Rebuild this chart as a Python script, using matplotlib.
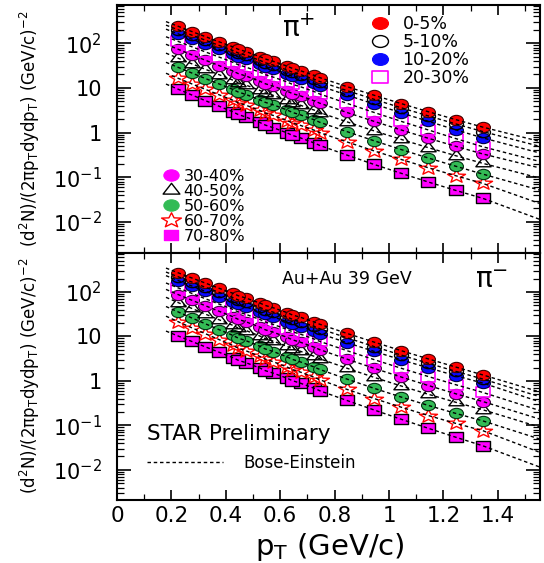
"""pi+ / pi- pT spectra in Au+Au 39 GeV by centrality, with Bose-Einstein fits."""

import matplotlib

matplotlib.use("Agg")
import matplotlib.pyplot as plt  # noqa: E402
import numpy as np  # noqa: E402
from matplotlib.lines import Line2D  # noqa: E402
from matplotlib.path import Path  # noqa: E402
from matplotlib.ticker import FixedFormatter, FixedLocator, LogLocator, MultipleLocator, NullFormatter  # noqa: E402

# --- data --------------------------------------------------------------------
centralities = ["0-5%", "5-10%", "10-20%", "20-30%", "30-40%", "40-50%", "50-60%", "60-70%", "70-80%"]

pt_tpc = [0.225, 0.275, 0.325, 0.375, 0.425, 0.475, 0.525, 0.575, 0.625, 0.675, 0.725]
pt_tof = [0.445, 0.545, 0.645, 0.745, 0.845, 0.945, 1.045, 1.145, 1.245, 1.345]
pt_fit_lo = 0.18
pt_fit_hi = 1.56

# pi+ yields, one row per centrality
pip_tpc = [
    [240, 183, 141, 108, 83.6, 64.8, 50.4, 39.3, 30.8, 24.2, 19.1],
    [200, 152, 117, 89.6, 69.1, 53.5, 41.5, 32.3, 25.3, 19.8, 15.6],
    [162, 124, 95.1, 73.1, 56.4, 43.6, 33.8, 26.3, 20.5, 16.0, 12.6],
    [110, 83.6, 64.0, 49.1, 37.7, 29.1, 22.5, 17.4, 13.6, 10.6, 8.27],
    [73.3, 55.1, 41.7, 31.6, 24.1, 18.4, 14.1, 10.9, 8.46, 6.60, 5.14],
    [46.2, 34.7, 26.1, 19.8, 15.0, 11.5, 8.80, 6.78, 5.24, 4.07, 3.18],
    [28.8, 21.6, 16.2, 12.3, 9.30, 7.08, 5.42, 4.16, 3.21, 2.48, 1.93],
    [16.4, 12.3, 9.27, 7.03, 5.33, 4.07, 3.12, 2.41, 1.86, 1.44, 1.13],
    [9.33, 6.94, 5.18, 3.89, 2.93, 2.21, 1.68, 1.28, 0.983, 0.756, 0.584],
]
pip_tof = [
    [73.6, 44.5, 27.3, 17.0, 10.7, 6.85, 4.45, 2.92, 1.95, 1.32],
    [60.8, 36.6, 22.4, 13.9, 8.71, 5.55, 3.58, 2.35, 1.56, 1.05],
    [49.5, 29.8, 18.1, 11.1, 6.92, 4.35, 2.76, 1.78, 1.15, 0.759],
    [33.1, 19.8, 12.0, 7.31, 4.52, 2.82, 1.78, 1.14, 0.733, 0.479],
    [21.0, 12.4, 7.45, 4.55, 2.82, 1.78, 1.14, 0.742, 0.492, 0.331],
    [13.1, 7.72, 4.62, 2.81, 1.74, 1.09, 0.701, 0.457, 0.303, 0.204],
    [8.12, 4.75, 2.82, 1.70, 1.05, 0.654, 0.415, 0.268, 0.176, 0.117],
    [4.65, 2.74, 1.64, 0.997, 0.617, 0.388, 0.249, 0.162, 0.108, 0.0724],
    [2.54, 1.47, 0.862, 0.515, 0.313, 0.193, 0.122, 0.0777, 0.0506, 0.0335],
]
pip_fit_lo = [306, 255, 207, 140, 95.0, 60.1, 37.5, 21.3, 12.2]
pip_fit_hi = [0.62, 0.48, 0.34, 0.22, 0.158, 0.093, 0.050, 0.025, 0.011]

# pi- yields
pim_tpc = [
    [269, 206, 158, 121, 93.7, 72.5, 56.3, 43.9, 34.3, 26.9, 21.1],
    [219, 167, 127, 97.8, 75.2, 58.1, 45.0, 35.0, 27.3, 21.4, 16.8],
    [180, 136, 103, 78.4, 59.9, 46.0, 35.5, 27.5, 21.3, 16.7, 13.1],
    [123, 92.8, 70.3, 53.4, 40.8, 31.2, 24.0, 18.5, 14.4, 11.2, 8.73],
    [87.1, 65.1, 48.9, 36.8, 27.9, 21.2, 16.2, 12.4, 9.53, 7.37, 5.72],
    [57.5, 42.6, 31.7, 23.7, 17.8, 13.5, 10.2, 7.80, 5.98, 4.61, 3.57],
    [35.5, 26.0, 19.2, 14.2, 10.6, 7.97, 6.01, 4.56, 3.47, 2.66, 2.05],
    [21.4, 15.6, 11.5, 8.49, 6.31, 4.73, 3.56, 2.69, 2.05, 1.57, 1.21],
    [10.2, 7.70, 5.82, 4.41, 3.35, 2.55, 1.95, 1.49, 1.15, 0.884, 0.683],
]
pim_tof = [
    [82.4, 49.7, 30.3, 18.8, 11.7, 7.45, 4.78, 3.11, 2.05, 1.36],
    [66.1, 39.7, 24.2, 14.9, 9.33, 5.92, 3.80, 2.48, 1.64, 1.10],
    [52.5, 31.2, 18.9, 11.6, 7.24, 4.61, 2.98, 1.96, 1.31, 0.891],
    [35.7, 21.1, 12.7, 7.73, 4.79, 3.01, 1.92, 1.25, 0.821, 0.550],
    [24.3, 14.1, 8.38, 5.05, 3.09, 1.92, 1.22, 0.785, 0.514, 0.343],
    [15.5, 8.92, 5.25, 3.15, 1.93, 1.20, 0.767, 0.499, 0.331, 0.224],
    [9.20, 5.23, 3.04, 1.81, 1.10, 0.681, 0.432, 0.280, 0.186, 0.126],
    [5.46, 3.09, 1.79, 1.06, 0.646, 0.401, 0.256, 0.166, 0.111, 0.0759],
    [2.92, 1.70, 1.01, 0.601, 0.363, 0.222, 0.137, 0.0857, 0.0542, 0.0347],
]
pim_fit_lo = [344, 280, 232, 159, 114, 75.7, 47.1, 28.5, 13.2]
pim_fit_hi = [0.55, 0.43, 0.33, 0.21, 0.135, 0.089, 0.048, 0.024, 0.0112]

ytick_vals = [1e-2, 1e-1, 1, 10, 100]
ytick_labels = [r"10$^{-2}$", r"10$^{-1}$", "1", "10", r"10$^{2}$"]
xtick_vals = [0, 0.2, 0.4, 0.6, 0.8, 1.0, 1.2, 1.4]


# --- marker shapes: the original is stretched sideways -----------------------
def stretched(path, sx=1.35):
    return Path(path.vertices * np.array([sx, 1.0]), path.codes)


ELLIPSE = stretched(Path.unit_circle())
RECT = stretched(
    Path([(-1, -1), (1, -1), (1, 1), (-1, 1), (-1, -1)],
         [Path.MOVETO, Path.LINETO, Path.LINETO, Path.LINETO, Path.CLOSEPOLY])
)
TRI = stretched(Path.unit_regular_polygon(3))
STAR = stretched(Path.unit_regular_star(5, 0.42))

MAG = "#ff00ff"
GREEN = "#33bb55"
styles = [
    dict(marker=ELLIPSE, ms=10, mfc="red", mec="#400000", mew=0.8),
    dict(marker=ELLIPSE, ms=10, mfc="none", mec="black", mew=1.0),
    dict(marker=ELLIPSE, ms=10, mfc="#0a0aff", mec="#000040", mew=0.8),
    dict(marker=RECT, ms=9.5, mfc="none", mec=MAG, mew=1.2),
    dict(marker=ELLIPSE, ms=10, mfc=MAG, mec="#400040", mew=0.8),
    dict(marker=TRI, ms=11, mfc="none", mec="black", mew=1.0),
    dict(marker=ELLIPSE, ms=10, mfc=GREEN, mec="#003010", mew=0.8),
    dict(marker=STAR, ms=13, mfc="none", mec="red", mew=1.0),
    dict(marker=RECT, ms=9.5, mfc=MAG, mec="black", mew=1.0),
]
FIT_LS = (0, (2.5, 2.0))

plt.rcParams["font.family"] = ["DejaVu Sans"]
plt.rcParams["mathtext.fontset"] = "dejavusans"

fig = plt.figure(figsize=(5.44, 5.63), dpi=100)
ax_top = fig.add_axes([0.2151, 0.5506, 0.7776, 0.4405])
ax_bot = fig.add_axes([0.2151, 0.1119, 0.7776, 0.4387])


def draw_panel(ax, tpc, tof, fit_lo, fit_hi, ylim):
    for i in range(len(centralities)):
        pts = np.concatenate([pt_tpc, pt_tof])
        vals = np.concatenate([tpc[i], tof[i]])
        ax.plot(pts, vals, ls="none", zorder=3 + 0.01 * (9 - i), **styles[i])
        order = np.argsort(pts)
        fx = np.concatenate([[pt_fit_lo], pts[order], [pt_fit_hi]])
        fy = np.concatenate([[fit_lo[i]], vals[order], [fit_hi[i]]])
        ax.plot(fx, fy, color="black", ls=FIT_LS, lw=1.0, zorder=5)

    ax.set_yscale("log")
    ax.set_xlim(0, 1.555)
    ax.set_ylim(*ylim)
    ax.yaxis.set_major_locator(FixedLocator(ytick_vals))
    ax.yaxis.set_major_formatter(FixedFormatter(ytick_labels))
    ax.yaxis.set_minor_locator(LogLocator(base=10, subs=np.arange(2, 10), numticks=20))
    ax.yaxis.set_minor_formatter(NullFormatter())
    ax.xaxis.set_major_locator(FixedLocator(xtick_vals))
    ax.xaxis.set_minor_locator(MultipleLocator(0.1))
    ax.tick_params(which="both", direction="in", top=True, right=True)
    ax.tick_params(axis="y", which="major", length=10, width=1.2, labelsize=15, pad=11)
    ax.tick_params(axis="y", which="minor", length=5, width=0.9)
    ax.tick_params(axis="x", which="major", length=7, width=1.2, labelsize=15.5, pad=4)
    ax.tick_params(axis="x", which="minor", length=4, width=0.9)
    for sp in ax.spines.values():
        sp.set_linewidth(1.5)


draw_panel(ax_top, pip_tpc, pip_tof, pip_fit_lo, pip_fit_hi, (2.0e-3, 7.2e2))
draw_panel(ax_bot, pim_tpc, pim_tof, pim_fit_lo, pim_fit_hi, (2.1e-3, 7.5e2))
ax_top.tick_params(axis="x", labelbottom=False)
ax_bot.set_xticklabels([f"{v:g}" for v in xtick_vals])


# --- legends -------------------------------------------------------------------
def handle(i, scale=1.15):
    st = dict(styles[i])
    st["ms"] = st["ms"] * scale
    if st["mfc"] != "none":
        st["mec"] = st["mfc"]
    return Line2D([], [], ls="none", **st)


leg1 = ax_top.legend(
    [handle(i) for i in range(4)], centralities[:4],
    loc="upper left", bbox_to_anchor=(0.597, 0.959), frameon=False, fontsize=12.5,
    borderpad=0, borderaxespad=0, handlelength=1.2, handletextpad=0.7, labelspacing=0.0,
)
ax_top.add_artist(leg1)
ax_top.legend(
    [handle(i, 1.1) for i in range(4, 9)], centralities[4:],
    loc="upper left", bbox_to_anchor=(0.1135, 0.34), frameon=False, fontsize=11.5,
    borderpad=0, borderaxespad=0, handlelength=0.8, handletextpad=0.35, labelspacing=0.0,
)
ax_bot.legend(
    [Line2D([], [], color="black", ls=FIT_LS, lw=1.0)], ["Bose-Einstein"],
    loc="upper left", bbox_to_anchor=(0.071, 0.186), frameon=False, fontsize=12,
    borderpad=0, borderaxespad=0, handlelength=4.55, handletextpad=1.2,
)

# --- labels ----------------------------------------------------------------------
ax_top.text(0.43, 0.905, "π$^{+}$", transform=ax_top.transAxes, fontsize=20,
            ha="center", va="center")
ax_bot.text(0.885, 0.89, "π$^{-}$", transform=ax_bot.transAxes, fontsize=20,
            ha="center", va="center")
ax_bot.text(0.544, 0.895, "Au+Au 39 GeV", transform=ax_bot.transAxes, fontsize=12.5,
            ha="center", va="center")
ax_bot.text(0.071, 0.243, "STAR Preliminary", transform=ax_bot.transAxes, fontsize=15.5,
            ha="left", va="baseline")

ylab = r"(d$^{2}$N)/(2πp$_{\mathrm{T}}$dydp$_{\mathrm{T}}$) (GeV/c)$^{-2}$"
fig.text(0.055, 0.772, ylab, rotation=90, ha="center", va="center", fontsize=12)
fig.text(0.055, 0.332, ylab, rotation=90, ha="center", va="center", fontsize=12)
fig.text(0.607, 0.0142, r"p$_{\mathrm{T}}$ (GeV/c)", ha="center", va="baseline", fontsize=21)

fig.savefig("out.png", dpi=100)
